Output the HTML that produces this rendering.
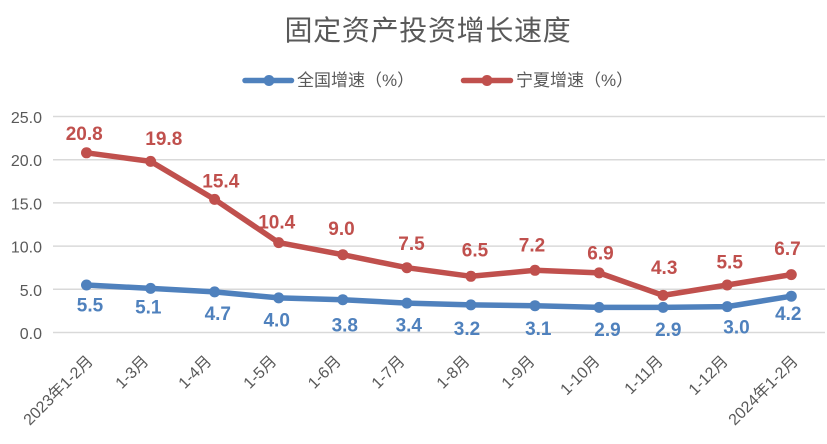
<!DOCTYPE html>
<html><head><meta charset="utf-8"><style>
html,body{margin:0;padding:0;background:#fff;}
svg{display:block;}
.ax{font-family:"Liberation Sans","Noto Sans CJK SC",sans-serif;font-size:16px;fill:#595959;}
.xl{font-family:"Liberation Sans","Noto Sans CJK SC",sans-serif;font-size:16px;fill:#595959;}
.lr{font-family:"Liberation Sans",sans-serif;font-size:19px;font-weight:bold;fill:#C0504D;}
.lb{font-family:"Liberation Sans",sans-serif;font-size:19px;font-weight:bold;fill:#4F81BD;}
</style></head><body>
<svg width="827" height="444" viewBox="0 0 827 444" xmlns="http://www.w3.org/2000/svg">
<rect width="827" height="444" fill="#fff"/>
<text x="428" y="40" text-anchor="middle" font-family="'Noto Sans CJK SC',sans-serif" font-size="28" letter-spacing="0.7" fill="#595959">固定资产投资增长速度</text>
<!-- legend -->
<line x1="245" y1="80.5" x2="291.5" y2="80.5" stroke="#4F81BD" stroke-width="5.5" stroke-linecap="round"/>
<circle cx="269" cy="80.5" r="5.5" fill="#4F81BD"/>
<text x="297" y="86" font-family="'Liberation Sans','Noto Sans CJK SC',sans-serif" font-size="17" fill="#595959">全国增速（%）</text>
<line x1="463.5" y1="80.5" x2="510.5" y2="80.5" stroke="#C0504D" stroke-width="5.5" stroke-linecap="round"/>
<circle cx="487" cy="80.5" r="5.5" fill="#C0504D"/>
<text x="516" y="86" font-family="'Liberation Sans','Noto Sans CJK SC',sans-serif" font-size="17" fill="#595959">宁夏增速（%）</text>
<!-- grid -->
<g stroke="#D9D9D9" stroke-width="1.5">
<line x1="53" y1="116.5" x2="825" y2="116.5"/>
<line x1="53" y1="159.7" x2="825" y2="159.7"/>
<line x1="53" y1="202.9" x2="825" y2="202.9"/>
<line x1="53" y1="246.1" x2="825" y2="246.1"/>
<line x1="53" y1="289.3" x2="825" y2="289.3"/>
<line x1="53" y1="332.5" x2="825" y2="332.5"/>
</g>
<g class="ax" text-anchor="end">
<text x="42" y="123">25.0</text>
<text x="42" y="166.2">20.0</text>
<text x="42" y="209.4">15.0</text>
<text x="42" y="252.6">10.0</text>
<text x="42" y="295.8">5.0</text>
<text x="42" y="339">0.0</text>
</g>
<!-- series -->
<polyline fill="none" stroke="#4F81BD" stroke-width="5.5" stroke-linejoin="round" points="86.5,285 150.6,288.4 214.6,291.9 278.7,297.9 342.8,299.7 406.9,303.1 470.9,304.9 535,305.7 599.1,307.4 663.1,307.4 727.2,306.6 791.3,296.2"/>
<g fill="#4F81BD">
<circle cx="86.5" cy="285" r="5.5"/><circle cx="150.6" cy="288.4" r="5.5"/><circle cx="214.6" cy="291.9" r="5.5"/><circle cx="278.7" cy="297.9" r="5.5"/><circle cx="342.8" cy="299.7" r="5.5"/><circle cx="406.9" cy="303.1" r="5.5"/><circle cx="470.9" cy="304.9" r="5.5"/><circle cx="535" cy="305.7" r="5.5"/><circle cx="599.1" cy="307.4" r="5.5"/><circle cx="663.1" cy="307.4" r="5.5"/><circle cx="727.2" cy="306.6" r="5.5"/><circle cx="791.3" cy="296.2" r="5.5"/>
</g>
<polyline fill="none" stroke="#C0504D" stroke-width="5.5" stroke-linejoin="round" points="86.5,152.8 150.6,161.4 214.6,199.4 278.7,242.6 342.8,254.7 406.9,267.7 470.9,276.3 535,270.3 599.1,272.9 663.1,295.4 727.2,285 791.3,274.6"/>
<g fill="#C0504D">
<circle cx="86.5" cy="152.8" r="5.5"/><circle cx="150.6" cy="161.4" r="5.5"/><circle cx="214.6" cy="199.4" r="5.5"/><circle cx="278.7" cy="242.6" r="5.5"/><circle cx="342.8" cy="254.7" r="5.5"/><circle cx="406.9" cy="267.7" r="5.5"/><circle cx="470.9" cy="276.3" r="5.5"/><circle cx="535" cy="270.3" r="5.5"/><circle cx="599.1" cy="272.9" r="5.5"/><circle cx="663.1" cy="295.4" r="5.5"/><circle cx="727.2" cy="285" r="5.5"/><circle cx="791.3" cy="274.6" r="5.5"/>
</g>
<!-- data labels -->
<g class="lr" text-anchor="middle">
<text x="84.2" y="140">20.8</text>
<text x="163.8" y="145">19.8</text>
<text x="220.8" y="187.3">15.4</text>
<text x="276.7" y="228.3">10.4</text>
<text x="341.5" y="235">9.0</text>
<text x="411.5" y="250">7.5</text>
<text x="475" y="256.7">6.5</text>
<text x="532" y="251.7">7.2</text>
<text x="600.5" y="259.3">6.9</text>
<text x="664.2" y="274">4.3</text>
<text x="729.7" y="268.3">5.5</text>
<text x="787.5" y="255">6.7</text>
</g>
<g class="lb" text-anchor="middle">
<text x="90" y="311.7">5.5</text>
<text x="148.3" y="313.3">5.1</text>
<text x="217.8" y="320">4.7</text>
<text x="276.7" y="326.7">4.0</text>
<text x="344.8" y="331.7">3.8</text>
<text x="408.8" y="331.7">3.4</text>
<text x="467" y="335">3.2</text>
<text x="538.3" y="335">3.1</text>
<text x="607.5" y="336">2.9</text>
<text x="668.3" y="336">2.9</text>
<text x="736.5" y="333.3">3.0</text>
<text x="788.3" y="320">4.2</text>
</g>
<!-- x labels -->
<g class="xl" text-anchor="end">
<text transform="translate(94,362) rotate(-45)">2023年1-2月</text>
<text transform="translate(149.5,362) rotate(-45)">1-3月</text>
<text transform="translate(212.5,362) rotate(-45)">1-4月</text>
<text transform="translate(277.5,362) rotate(-45)">1-5月</text>
<text transform="translate(342,362) rotate(-45)">1-6月</text>
<text transform="translate(405.7,362) rotate(-45)">1-7月</text>
<text transform="translate(470.7,362) rotate(-45)">1-8月</text>
<text transform="translate(535.7,362) rotate(-45)">1-9月</text>
<text transform="translate(600.7,362) rotate(-45)">1-10月</text>
<text transform="translate(664,362) rotate(-45)">1-11月</text>
<text transform="translate(729,362) rotate(-45)">1-12月</text>
<text transform="translate(799,362) rotate(-45)">2024年1-2月</text>
</g>
</svg>
</body></html>
